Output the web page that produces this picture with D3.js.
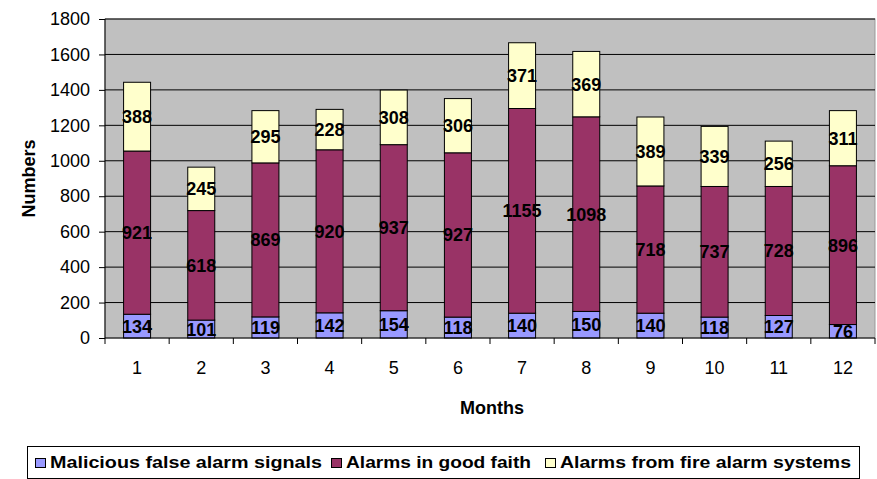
<!DOCTYPE html>
<html>
<head>
<meta charset="utf-8">
<script src="https://cdn.jsdelivr.net/npm/d3@7/dist/d3.min.js"></script>
<style>
  body { margin: 0; background: #fff; }
  text { font-family: Arial, "Liberation Sans", sans-serif; }
</style>
</head>
<body>
<div id="chart"></div>
<script>
const months = ["1","2","3","4","5","6","7","8","9","10","11","12"];
const malicious = [134,101,119,142,154,118,140,150,140,118,127,76];
const goodFaith = [921,618,869,920,937,927,1155,1098,718,737,728,896];
const fireSystems = [388,245,295,228,308,306,371,369,389,339,256,311];
const seriesNames = ["Malicious false alarm signals","Alarms in good faith","Alarms from fire alarm systems"];
const seriesColors = ["#9999FF","#993366","#FFFFCC"];
const yTicks = [0,200,400,600,800,1000,1200,1400,1600,1800];

const W = 877, H = 479;
const margin = {top: 19, right: 2, bottom: 141, left: 105};
const width = W - margin.left - margin.right,
      height = H - margin.top - margin.bottom;

const svg = d3.select("#chart").append("svg")
    .attr("width", W).attr("height", H);
const g = svg.append("g")
    .attr("transform", `translate(${margin.left}, ${margin.top})`);

const x = d3.scaleBand().domain(months).range([0, width]);
const y = d3.scaleLinear().domain([0, 1800]).range([height, 0]);

// plot background
g.append("rect")
  .attr("width", width).attr("height", height)
  .attr("fill", "#C0C0C0").attr("stroke", "#999").attr("stroke-width", 1);

// gridlines
g.selectAll(".grid").data(yTicks.filter(d => d > 0))
  .join("line")
    .attr("x1", 0).attr("x2", width)
    .attr("y1", d => y(d)).attr("y2", d => y(d))
    .attr("stroke", "#000").attr("stroke-width", 1);

// stacked data
const table = months.map((m, i) => ({month: m, s0: malicious[i], s1: goodFaith[i], s2: fireSystems[i]}));
const stack = d3.stack().keys(["s0","s1","s2"])(table);
const barW = 27;

stack.forEach((layer, k) => {
  g.append("g").selectAll("rect").data(layer).join("rect")
    .attr("x", d => x(d.data.month) + x.bandwidth()/2 - barW/2)
    .attr("y", d => y(d[1]))
    .attr("width", barW)
    .attr("height", d => y(d[0]) - y(d[1]))
    .attr("fill", seriesColors[k])
    .attr("stroke", "#000").attr("stroke-width", 1);
});

stack.forEach((layer, k) => {
  g.append("g").selectAll("text").data(layer).join("text")
    .attr("x", d => x(d.data.month) + x.bandwidth()/2)
    .attr("y", d => (y(d[0]) + y(d[1]))/2)
    .attr("dy", "0.36em")
    .attr("text-anchor", "middle")
    .style("font-size", "18px").style("font-weight", "bold")
    .text(d => d[1] - d[0]);
});

// y axis
const yAxis = g.append("g")
  .call(d3.axisLeft(y).tickValues(yTicks).tickFormat(d3.format("d")).tickSize(6).tickPadding(9));
yAxis.select(".domain").attr("d", `M0,${height}V0`).attr("stroke", "#000");
yAxis.selectAll("text").style("font-size", "18px").attr("fill", "#000")
  .style("font-family", "Arial, 'Liberation Sans', sans-serif");

// x axis
const xAxis = g.append("g").attr("transform", `translate(0, ${height})`)
  .call(d3.axisBottom(x).tickSize(0).tickPadding(23));
xAxis.select(".domain").attr("d", `M0,0H${width}`).attr("stroke", "#000");
xAxis.selectAll("text").style("font-size", "18px").attr("fill", "#000")
  .style("font-family", "Arial, 'Liberation Sans', sans-serif");
xAxis.selectAll(".bnd").data(d3.range(months.length + 1))
  .join("line").attr("class", "bnd")
    .attr("x1", i => i * x.step()).attr("x2", i => i * x.step())
    .attr("y1", 0).attr("y2", 6).attr("stroke", "#000");

// axis titles
svg.append("text")
  .attr("transform", `translate(35, ${margin.top + height/2}) rotate(-90)`)
  .attr("text-anchor", "middle")
  .style("font-size", "18px").style("font-weight", "bold")
  .text("Numbers");
svg.append("text")
  .attr("x", 492).attr("y", 414)
  .attr("text-anchor", "middle")
  .style("font-size", "18px").style("font-weight", "bold")
  .text("Months");

// legend
const legend = svg.append("g");
legend.append("rect")
  .attr("x", 27.5).attr("y", 446.5).attr("width", 832).attr("height", 32)
  .attr("fill", "#fff").attr("stroke", "#000");
const legendX = [35, 331, 545];
const legendW = [272, 185, 291];
seriesNames.forEach((name, k) => {
  legend.append("rect")
    .attr("x", legendX[k] + 0.5).attr("y", 458.5).attr("width", 10).attr("height", 9)
    .attr("fill", seriesColors[k]).attr("stroke", "#000");
  legend.append("text")
    .attr("x", legendX[k] + 15).attr("y", 468)
    .attr("textLength", legendW[k]).attr("lengthAdjust", "spacingAndGlyphs")
    .style("font-size", "17px").style("font-weight", "bold")
    .text(name);
});
</script>
</body>
</html>
